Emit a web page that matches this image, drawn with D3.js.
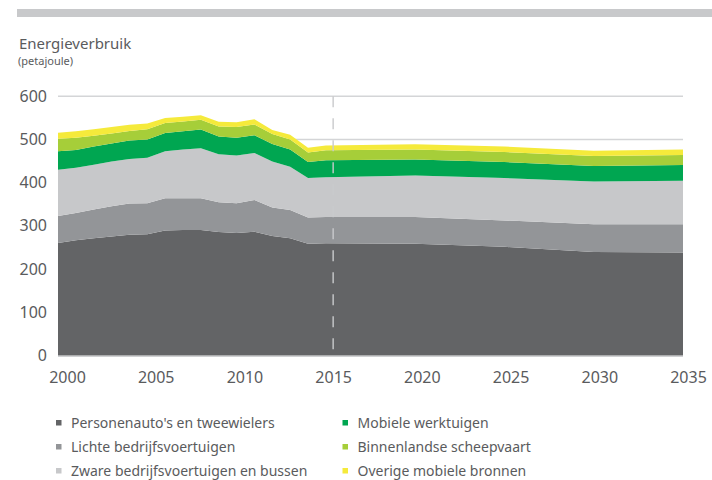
<!DOCTYPE html>
<html>
<head>
<meta charset="utf-8">
<script src="https://cdn.jsdelivr.net/npm/d3@7/dist/d3.min.js"></script>
<style>
  html, body { margin: 0; padding: 0; background: #fff; }
  svg { display: block; font-family: "Noto Sans", "Open Sans", sans-serif; }
  .num { font-family: "Noto Sans", sans-serif; }
</style>
</head>
<body>
<svg id="chart" width="712" height="480"></svg>
<script>
// Energy use of mobile sources, petajoule (history yearly, outlook in 5-year steps)
const years = [2000, 2001, 2002, 2003, 2004, 2005, 2006, 2007, 2008, 2009,
               2010, 2011, 2012, 2013, 2014, 2015, 2020, 2025, 2030, 2035];

const personenautos = [261, 267, 272, 276, 280, 281, 290, 291, 291, 286, 284, 287, 277, 272, 259, 260, 259, 252, 240, 239];
const lichteBedrijf = [62, 63, 66, 70, 72, 72, 74, 73, 73, 69, 69, 73, 66, 65, 61, 61, 62, 61, 64, 65];
const zwareBedrijf  = [107, 105, 104, 103, 103, 105, 109, 113, 116, 111, 110, 109, 106, 100, 91, 92, 96, 98, 99, 101];
const werktuigen    = [43, 41, 42, 42, 43, 42, 42, 42, 43, 41, 41, 41, 41, 40, 37, 39, 37, 37, 36, 36];
const scheepvaart   = [29, 28, 25, 23, 22, 24, 23, 23, 23, 23, 25, 25, 23, 23, 22, 23, 23, 23, 23, 23];
const overig        = [14, 15, 15, 15, 14, 13, 12, 11, 10, 11, 11, 12, 9, 11, 11, 11, 12, 13, 12, 13];

const seriesNames = [
  "Personenauto's en tweewielers",
  "Lichte bedrijfsvoertuigen",
  "Zware bedrijfsvoertuigen en bussen",
  "Mobiele werktuigen",
  "Binnenlandse scheepvaart",
  "Overige mobiele bronnen"
];
const seriesValues = [personenautos, lichteBedrijf, zwareBedrijf, werktuigen, scheepvaart, overig];
const colors = ["#636466", "#939598", "#c7c8ca", "#00a651", "#a6ce39", "#f5ea3b"];

const yTicks = [0, 100, 200, 300, 400, 500, 600];
const xTicks = [2000, 2005, 2010, 2015, 2020, 2025, 2030, 2035];
const outlookStart = 2015;

const svg = d3.select("#chart");
const textColor = "#5a5b5d";

// header bar and titles
svg.append("rect").attr("x", 17).attr("y", 9).attr("width", 695).attr("height", 8).attr("fill", "#c8c9cb");
svg.append("text").attr("x", 19).attr("y", 49).attr("font-size", 15).attr("fill", textColor).text("Energieverbruik");
svg.append("text").attr("x", 18).attr("y", 65).attr("font-size", 11).attr("fill", textColor).text("(petajoule)");

// scales
const x = d3.scaleLinear().domain([2000, 2035]).range([58, 683]);
const xLabel = d3.scaleLinear().domain([2000, 2035]).range([67, 688]);
const y = d3.scaleLinear().domain([0, 600]).range([355.8, 96.3]);

// gridlines
svg.append("g").selectAll("line").data(yTicks.filter(d => d > 0)).join("line")
  .attr("x1", x(2000)).attr("x2", x(2035))
  .attr("y1", d => y(d)).attr("y2", d => y(d))
  .attr("stroke", "#d4d5d7").attr("stroke-width", 1.5);

// stacked areas
const table = years.map((yr, i) => {
  const row = { year: yr };
  seriesNames.forEach((n, j) => row[n] = seriesValues[j][i]);
  return row;
});
const stack = d3.stack().keys(seriesNames);
const layers = stack(table);
const area = d3.area()
  .x(d => x(d.data.year))
  .y0(d => y(d[0]))
  .y1(d => y(d[1]));

svg.append("g").selectAll("path").data(layers).join("path")
  .attr("d", area)
  .attr("fill", (d, i) => colors[i]);

// baseline
svg.append("line")
  .attr("x1", x(2000)).attr("x2", x(2035))
  .attr("y1", y(0) + 0.5).attr("y2", y(0) + 0.5)
  .attr("stroke", "#cfd0d2").attr("stroke-width", 1.6);

// outlook divider
svg.append("line")
  .attr("x1", xLabel(outlookStart)).attr("x2", xLabel(outlookStart))
  .attr("y1", y(600)).attr("y2", y(0))
  .attr("stroke", "#c9cacc").attr("stroke-width", 1.4)
  .attr("stroke-dasharray", "11,11");

// y axis
const yAxis = d3.axisLeft(y).tickValues(yTicks).tickSize(0).tickPadding(0);
const gy = svg.append("g").attr("transform", "translate(47,0)").call(yAxis);
gy.select(".domain").remove();
gy.selectAll("text").attr("class", "num").attr("font-size", 16).attr("fill", textColor)
  .attr("font-family", null).attr("dy", "0.3em");

// x axis
const xAxis = d3.axisBottom(xLabel).tickValues(xTicks).tickFormat(d3.format("d")).tickSize(0).tickPadding(0);
const gx = svg.append("g").attr("transform", "translate(0,372)").call(xAxis);
gx.select(".domain").remove();
gx.selectAll("text").attr("class", "num").attr("font-size", 16).attr("fill", textColor)
  .attr("font-family", null);

// legend
const legend = svg.append("g");
seriesNames.forEach((name, i) => {
  const col = Math.floor(i / 3), row = i % 3;
  const lx = col === 0 ? 56 : 342.5;
  const ly = 428 + row * 24;
  legend.append("rect").attr("x", lx).attr("y", ly - 8).attr("width", 5.5).attr("height", 5.5).attr("fill", colors[i]);
  legend.append("text").attr("x", lx + 15).attr("y", ly).attr("font-size", 14).attr("fill", textColor).text(name);
});
</script>
</body>
</html>
